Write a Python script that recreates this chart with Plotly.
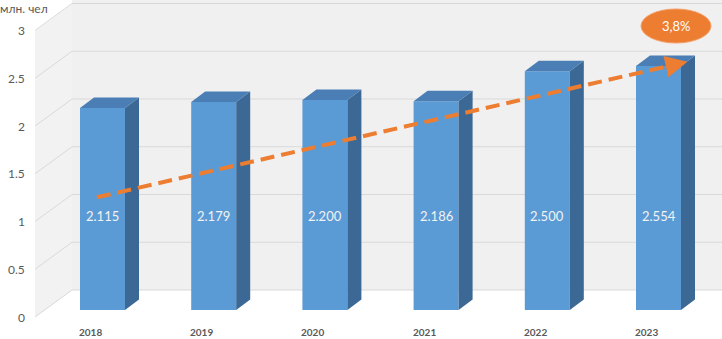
import plotly.graph_objects as go

# ---- data ----
years = ["2018", "2019", "2020", "2021", "2022", "2023"]
values = [2.115, 2.179, 2.200, 2.186, 2.500, 2.554]
y_ticks = [0, 0.5, 1, 1.5, 2, 2.5, 3]
y_tick_labels = ["0", "0.5", "1", "1.5", "2", "2.5", "3"]
unit_label = "млн. чел"
growth_label = "3,8%"
trend_y = [1.18, 2.60]          # trend arrow start / end (value units)
trend_x = [-0.05, 5.26]         # trend arrow start / end (category positions)

# ---- geometry helpers (pixel -> data) ----
W, H = 722, 339
PX_CAT = 111.2      # pixels per category
CX0 = 102.5         # pixel x of first bar centre
BASE = 310.0        # pixel y of value 0 at bar front
PX_UNIT = 95.5      # pixels per value unit


def xp(px):
    return (px - CX0) / PX_CAT


def yp(py):
    return (BASE - py) / PX_UNIT


bar_w = 45 / PX_CAT
dx = 14 / PX_CAT
dy = 10.5 / PX_UNIT

FRONT = "#5B9BD5"
TOP = "#4A7EB5"
SIDE = "#3C6895"
GRID = "#D9D9D9"
WALL = "#F0F0F0"
TXT = "#595959"
ORANGE = "#ED7D31"
FONT = "Lato"

fig = go.Figure()

# walls
shapes = []
shapes.append(dict(type="rect", xref="x", yref="y", x0=xp(72), x1=xp(722),
                   y0=yp(290), y1=yp(0), fillcolor=WALL, line_width=0, layer="below"))
shapes.append(dict(type="path", xref="x", yref="y",
                   path=f"M{xp(35)},{yp(317)} L{xp(72)},{yp(290)} L{xp(72)},{yp(4)} L{xp(35)},{yp(31)} Z",
                   fillcolor="#F2F2F2", line_width=0, layer="below"))
back_off = 20 / PX_UNIT
front_off = -7 / PX_UNIT
for v in y_ticks:
    shapes.append(dict(type="line", xref="x", yref="y", x0=xp(72), x1=xp(722),
                       y0=v + back_off, y1=v + back_off, line=dict(color=GRID, width=1), layer="below"))
    shapes.append(dict(type="line", xref="x", yref="y", x0=xp(35), x1=xp(72),
                       y0=v + front_off, y1=v + back_off, line=dict(color=GRID, width=1), layer="below"))

# bars: front faces
xs = list(range(len(years)))
fig.add_trace(go.Bar(x=xs, y=values, width=bar_w, marker=dict(color=FRONT, line_width=0),
                     hoverinfo="skip", showlegend=False))
# side and top faces
for i, v in zip(xs, values):
    x0, x1 = i - bar_w / 2, i + bar_w / 2
    fig.add_trace(go.Scatter(x=[x1, x1 + dx, x1 + dx, x1, x1], y=[0, dy, v + dy, v, 0],
                             fill="toself", fillcolor=SIDE, mode="lines", line=dict(width=0),
                             hoverinfo="skip", showlegend=False))
    fig.add_trace(go.Scatter(x=[x0, x0 + dx, x1 + dx, x1, x0], y=[v, v + dy, v + dy, v, v],
                             fill="toself", fillcolor=TOP, mode="lines", line=dict(width=0),
                             hoverinfo="skip", showlegend=False))

# trend arrow
ux, uy = 0.975, -0.223          # direction in pixels (right, up is negative)
tip_pad = 12
fig.add_trace(go.Scatter(x=[trend_x[0], trend_x[1] - tip_pad * ux / PX_CAT],
                         y=[trend_y[0], trend_y[1] + tip_pad * uy / PX_UNIT],
                         mode="lines", line=dict(color=ORANGE, width=4, dash="14px,7px"),
                         hoverinfo="skip", showlegend=False))

annotations = []
annotations.append(dict(x=trend_x[1], y=trend_y[1], xref="x", yref="y", text="",
                        showarrow=True, arrowhead=2, arrowsize=1.1, arrowwidth=4, arrowcolor=ORANGE,
                        ax=-16 * ux, ay=-16 * uy, standoff=0))

# y tick labels
for v, t in zip(y_ticks, y_tick_labels):
    annotations.append(dict(x=xp(27), y=v + front_off, xref="x", yref="y", text=t,
                            xanchor="right", yanchor="middle", showarrow=False,
                            font=dict(family=FONT, size=12, color=TXT)))
# year labels
for i, yr in zip(xs, years):
    annotations.append(dict(x=i - 12 / PX_CAT, y=yp(332), xref="x", yref="y", text=f"<b>{yr}</b>",
                            xanchor="center", yanchor="middle", showarrow=False,
                            font=dict(family=FONT, size=10, color=TXT)))
# value labels
for i, v in zip(xs, values):
    annotations.append(dict(x=i, y=yp(216), xref="x", yref="y", text=f"{v:.3f}",
                            xanchor="center", yanchor="middle", showarrow=False,
                            font=dict(family=FONT, size=13, color="#F2F2F2")))
# unit label (top-left)
annotations.append(dict(x=0, y=1, xref="paper", yref="paper", text=unit_label,
                        xanchor="left", yanchor="top", yshift=1, xshift=-2, showarrow=False,
                        font=dict(family=FONT, size=12, color=TXT)))
# growth bubble
shapes.append(dict(type="circle", xref="x", yref="y", x0=xp(641), x1=xp(711), y0=yp(43), y1=yp(9),
                   fillcolor=ORANGE, line=dict(color="#F4A06A", width=1), layer="above"))
annotations.append(dict(x=xp(676), y=yp(26), xref="x", yref="y", text=growth_label,
                        xanchor="center", yanchor="middle", showarrow=False,
                        font=dict(family=FONT, size=13, color="white")))

fig.update_layout(
    width=W, height=H, margin=dict(l=0, r=0, t=0, b=0),
    paper_bgcolor="white", plot_bgcolor="white",
    xaxis=dict(range=[xp(0), xp(W)], visible=False, fixedrange=True),
    yaxis=dict(range=[yp(H), yp(0)], visible=False, fixedrange=True),
    shapes=shapes, annotations=annotations, barmode="overlay",
)

fig.write_html("out.html", config={"displayModeBar": False},
               post_script="document.body.style.margin='0';document.body.style.overflow='hidden';")
